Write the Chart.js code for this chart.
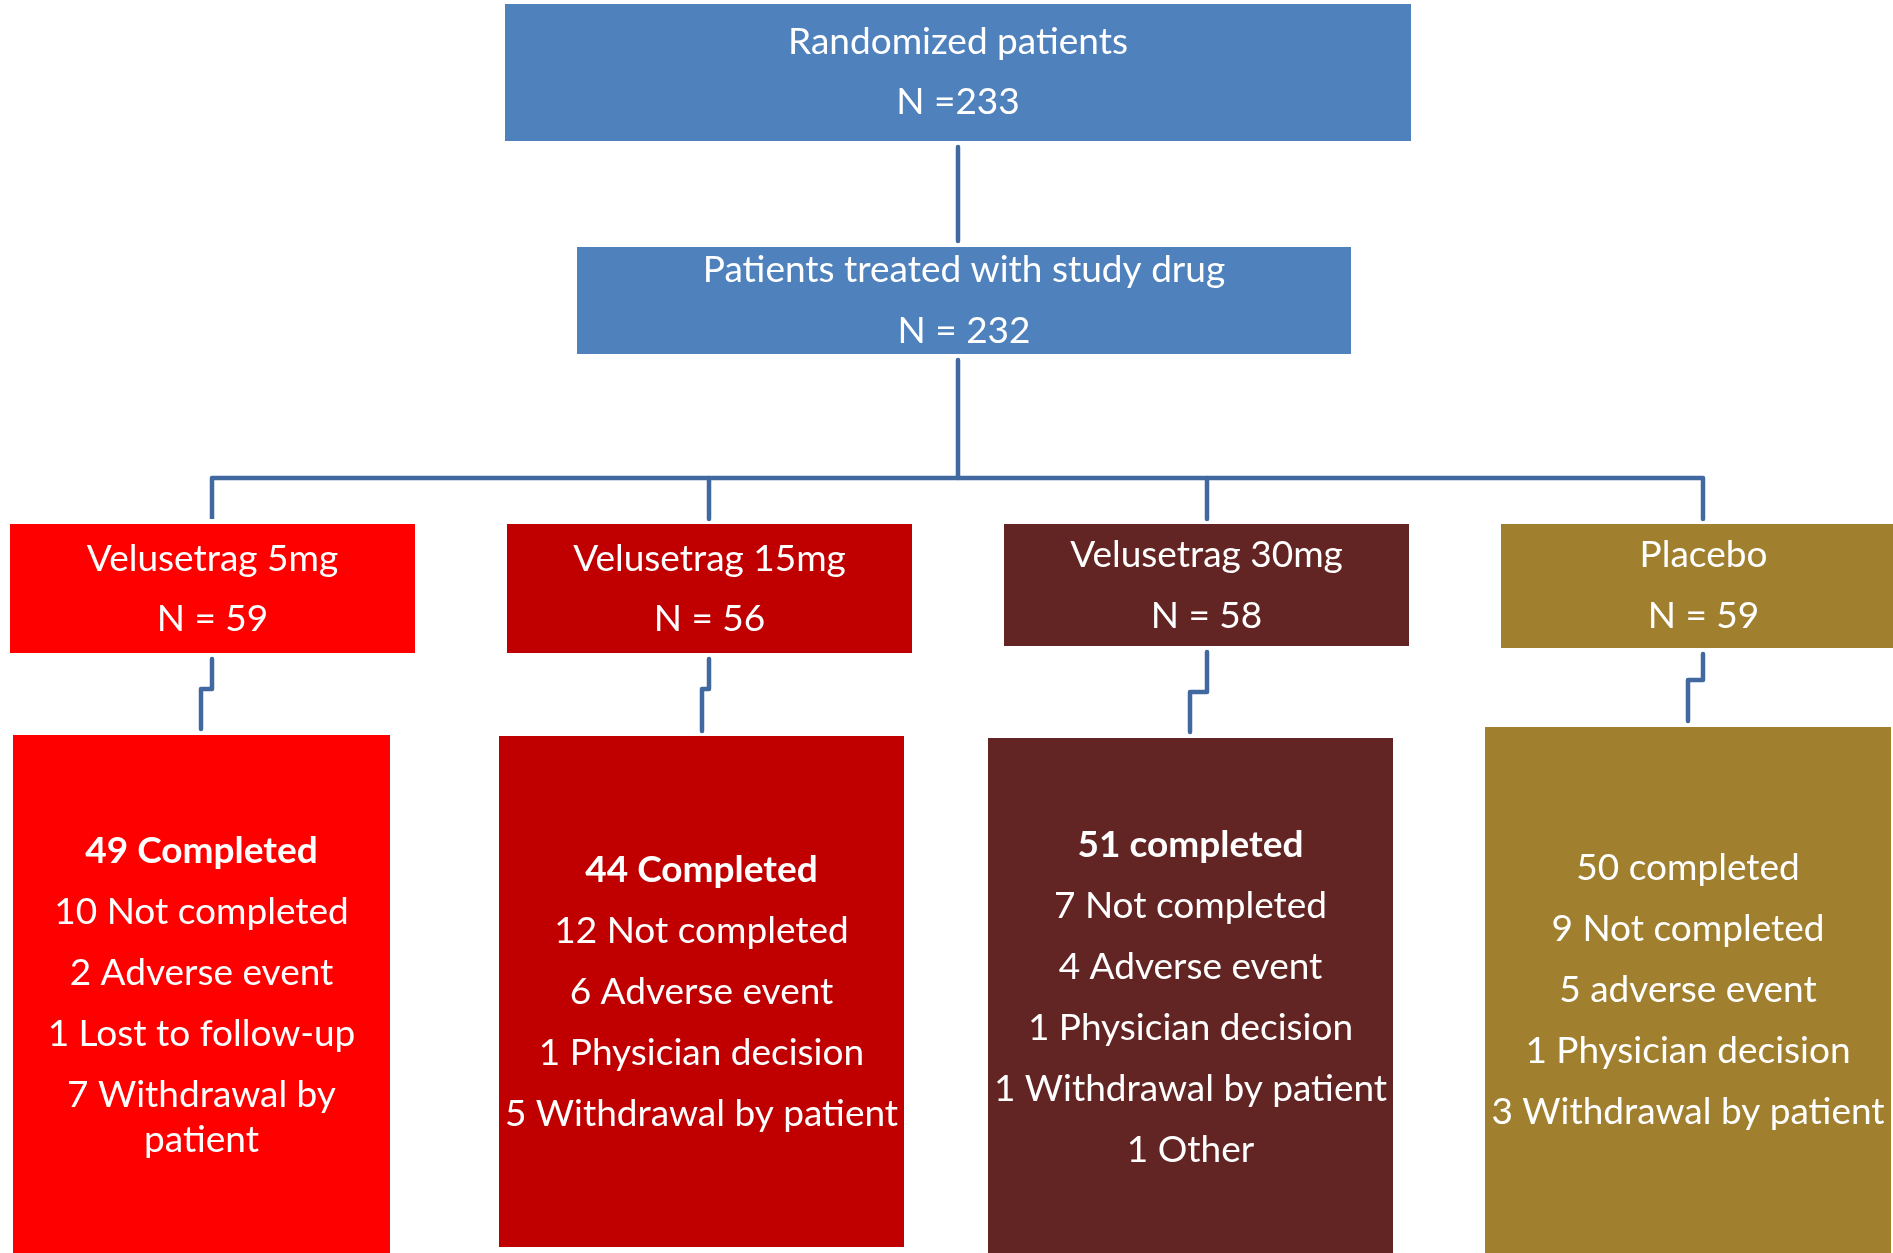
<!DOCTYPE html>
<html>
<head>
<meta charset="utf-8">
<script src="https://cdn.jsdelivr.net/npm/chart.js@4.4.1/dist/chart.umd.min.js"></script>
<style>
  html, body { margin: 0; padding: 0; background: #fff; }
  #wrap { width: 1893px; height: 1253px; overflow: hidden; }
</style>
</head>
<body>
<div id="wrap"><canvas id="flow" width="1893" height="1253"></canvas></div>
<script>
// --- study flow values ---
const stageTitles = ["Randomized patients", "Patients treated with study drug"];
const stageCounts = [233, 232];
const stageCountPrefix = ["N =", "N = "];

const armNames = ["Velusetrag 5mg", "Velusetrag 15mg", "Velusetrag 30mg", "Placebo"];
const armCounts = [59, 56, 58, 59];
const completedCounts = [49, 44, 51, 50];
const completedWords = ["Completed", "Completed", "completed", "completed"];
const notCompletedCounts = [10, 12, 7, 9];
const reasonCounts = [
  [2, 1, 7],
  [6, 1, 5],
  [4, 1, 1, 1],
  [5, 1, 3]
];
const reasonLabels = [
  ["Adverse event", "Lost to follow-up", "Withdrawal by patient"],
  ["Adverse event", "Physician decision", "Withdrawal by patient"],
  ["Adverse event", "Physician decision", "Withdrawal by patient", "Other"],
  ["adverse event", "Physician decision", "Withdrawal by patient"]
];

// --- look ---
const stageColor = "#4F81BD";
const armColors = ["#FF0000", "#C00000", "#632523", "#A07F2F"];
const completedBold = [true, true, true, false];
const lineColor = "#41699F";
const FONT = "Lato, 'Open Sans', sans-serif";
const FONT_SIZE = 37;
const TEXT_NUDGE = 1;

// --- layout, in axis units (x: 0..1893, y: 0..1253 from the top) ---
const W = 1893, H = 1253;
const stageBoxes = [
  { x0: 505, x1: 1411, y0: 4, y1: 141, lines: [41, 101] },
  { x0: 577, x1: 1351, y0: 247, y1: 354, lines: [269, 330] }
];
const armBoxes = [
  { x0: 10, x1: 415, y0: 524, y1: 653, lines: [558, 618] },
  { x0: 507, x1: 912, y0: 524, y1: 653, lines: [558, 618] },
  { x0: 1004, x1: 1409, y0: 524, y1: 646, lines: [554, 615] },
  { x0: 1501, x1: 1906, y0: 524, y1: 648, lines: [554, 615] }
];
const outcomeBoxes = [
  { x0: 13, x1: 390, y0: 735, y1: 1260, top: 850 },
  { x0: 499, x1: 904, y0: 736, y1: 1247, top: 869 },
  { x0: 988, x1: 1393, y0: 738, y1: 1260, top: 844 },
  { x0: 1485, x1: 1891, y0: 727, y1: 1260, top: 867 }
];
const ROW_STEP = 61, WRAP_STEP = 45;

const connectors = [
  [[958, 147], [958, 241]],
  [[958, 360], [958, 478]],
  [[212, 519], [212, 478], [1703, 478], [1703, 519]],
  [[709, 478], [709, 519]],
  [[1207, 478], [1207, 519]],
  [[212, 659], [212, 689], [201, 689], [201, 729]],
  [[709, 659], [709, 689], [702, 689], [702, 731]],
  [[1207, 652], [1207, 692], [1190, 692], [1190, 732]],
  [[1703, 654], [1703, 680], [1688, 680], [1688, 721]]
];

function outcomeLines(i) {
  const rows = [
    { text: completedCounts[i] + " " + completedWords[i], bold: completedBold[i] },
    { text: notCompletedCounts[i] + " Not completed", bold: false }
  ];
  reasonCounts[i].forEach((n, k) => rows.push({ text: n + " " + reasonLabels[i][k], bold: false }));
  return rows;
}

function wrapText(ctx, text, maxWidth) {
  const words = text.split(" ");
  const out = [];
  let cur = "";
  words.forEach(w => {
    const test = cur ? cur + " " + w : w;
    if (cur && ctx.measureText(test).width > maxWidth) {
      out.push(cur);
      cur = w;
    } else {
      cur = test;
    }
  });
  if (cur) out.push(cur);
  return out;
}

function rectPx(sx, sy, b) {
  const left = sx.getPixelForValue(b.x0);
  const right = sx.getPixelForValue(b.x1);
  const top = sy.getPixelForValue(b.y0);
  const bottom = sy.getPixelForValue(b.y1);
  return [left, top, right - left, bottom - top];
}

const boxPlugin = {
  id: "flowBoxes",
  beforeDatasetsDraw(chart) {
    const { ctx, scales: { x, y } } = chart;
    ctx.save();
    stageBoxes.forEach(b => {
      ctx.fillStyle = stageColor;
      ctx.fillRect(...rectPx(x, y, b));
    });
    armBoxes.forEach((b, i) => {
      ctx.fillStyle = armColors[i];
      ctx.fillRect(...rectPx(x, y, b));
    });
    outcomeBoxes.forEach((b, i) => {
      ctx.fillStyle = armColors[i];
      ctx.fillRect(...rectPx(x, y, b));
    });
    ctx.restore();
  },
  afterDatasetsDraw(chart) {
    const { ctx, scales: { x, y } } = chart;
    const ty = v => y.getPixelForValue(v) + TEXT_NUDGE;
    ctx.save();
    ctx.fillStyle = "#FFFFFF";
    ctx.textAlign = "center";
    ctx.textBaseline = "middle";
    ctx.font = `${FONT_SIZE}px ${FONT}`;

    stageBoxes.forEach((b, i) => {
      const cx = x.getPixelForValue((b.x0 + b.x1) / 2);
      ctx.fillText(stageTitles[i], cx, ty(b.lines[0]));
      ctx.fillText(stageCountPrefix[i] + stageCounts[i], cx, ty(b.lines[1]));
    });

    armBoxes.forEach((b, i) => {
      const cx = x.getPixelForValue((b.x0 + b.x1) / 2);
      ctx.fillText(armNames[i], cx, ty(b.lines[0]));
      ctx.fillText("N = " + armCounts[i], cx, ty(b.lines[1]));
    });

    outcomeBoxes.forEach((b, i) => {
      const cx = x.getPixelForValue((b.x0 + b.x1) / 2);
      const maxW = x.getPixelForValue(b.x1) - x.getPixelForValue(b.x0) - 4;
      let yy = b.top;
      outcomeLines(i).forEach(row => {
        ctx.font = `${row.bold ? "bold " : ""}${FONT_SIZE}px ${FONT}`;
        const parts = wrapText(ctx, row.text, maxW);
        parts.forEach((p, k) => {
          if (k > 0) yy += WRAP_STEP;
          ctx.fillText(p, cx, ty(yy));
        });
        yy += ROW_STEP;
      });
    });
    ctx.restore();
  }
};

const connectorSets = connectors.map(pts => ({
  data: pts.map(([px, py]) => ({ x: px, y: py })),
  showLine: true,
  borderColor: lineColor,
  borderWidth: 4.5,
  borderJoinStyle: "round",
  pointRadius: 0,
  pointHoverRadius: 0,
  clip: false
}));

new Chart(document.getElementById("flow").getContext("2d"), {
  type: "scatter",
  data: { datasets: connectorSets },
  options: {
    responsive: false,
    animation: false,
    events: [],
    layout: { padding: 0 },
    plugins: { legend: { display: false }, tooltip: { enabled: false } },
    scales: {
      x: { type: "linear", min: 0, max: W, display: false },
      y: { type: "linear", min: 0, max: H, reverse: true, display: false }
    }
  },
  plugins: [boxPlugin]
});
</script>
</body>
</html>
